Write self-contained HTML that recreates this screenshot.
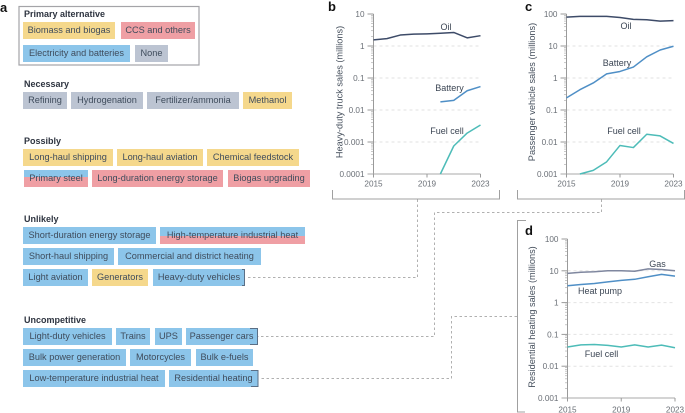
<!DOCTYPE html>
<html lang="en">
<head>
<meta charset="utf-8">
<title>Sales by technology</title>
<style>
html,body{margin:0;padding:0;background:#fff;}
#page{position:relative;width:685px;height:413px;overflow:hidden;background:#fff;font-family:"Liberation Sans",sans-serif;color:#3c4654;filter:blur(0.3px);}
.t{position:absolute;height:17px;line-height:17px;font-size:9.2px;text-align:center;white-space:nowrap;color:#3f4c5c;}
.y{background:#f5d88c;}
.p{background:#ef9fa4;}
.b{background:#8cc5ea;}
.g{background:#bcc4d2;}
.h{position:absolute;font-size:9px;font-weight:bold;color:#2e3440;white-space:nowrap;line-height:11px;}
.l{position:absolute;font-size:13px;font-weight:bold;color:#111;line-height:13px;}
svg{position:absolute;left:0;top:0;z-index:2;}
svg text{font-family:"Liberation Sans",sans-serif;}
</style>
</head>
<body>
<div id="page">
<svg id="chart" width="685" height="413" viewBox="0 0 685 413">
  <g fill="none" stroke="#a0a0a0" stroke-width="1">
    <rect x="19" y="6.5" width="180" height="58.5" stroke="#a4a4a8" stroke-width="1.2"/>
    <path d="M332.5 190V199H499.5V190"/>
    <path d="M517.5 190V199H684.5V190"/>
    <path d="M526 220.5H517.5V412H525"/>
    <path d="M417.5 199.5V277.5H246" stroke="#b0b0b0" stroke-dasharray="2.5 2.5"/>
    <path d="M601.5 199.5V212.5H434.5V336.5H258" stroke="#b0b0b0" stroke-dasharray="2.5 2.5"/>
    <path d="M517 316.5H451.5V378.5H259" stroke="#b0b0b0" stroke-dasharray="2.5 2.5"/>
  </g>
  <g fill="none" stroke="#5a6f86" stroke-width="1">
    <path d="M242 269.5H244.5V285.5H242"/>
    <path d="M250 328.5H257.5V344.5H250"/>
    <path d="M251 370.5H258V386.5H251"/>
  </g>
  <g id="plots"></g>
  <g font-size="9" fill="#3c4654">
    <text x="446" y="30" text-anchor="middle">Oil</text>
    <text x="449.5" y="91" text-anchor="middle">Battery</text>
    <text x="447" y="134" text-anchor="middle">Fuel cell</text>
    <text x="626" y="29" text-anchor="middle">Oil</text>
    <text x="617" y="66" text-anchor="middle">Battery</text>
    <text x="624" y="134" text-anchor="middle">Fuel cell</text>
    <text x="657.5" y="267" text-anchor="middle">Gas</text>
    <text x="600" y="294" text-anchor="middle">Heat pump</text>
    <text x="601.5" y="357" text-anchor="middle">Fuel cell</text>
  </g>
  <g font-size="9.2" fill="#454f5c" text-anchor="middle">
    <text transform="translate(342.5 92) rotate(-90)">Heavy-duty truck sales (millions)</text>
    <text transform="translate(535 92) rotate(-90)">Passenger vehicle sales (millions)</text>
    <text transform="translate(535 317) rotate(-90)">Residential heating sales (millions)</text>
  </g>
</svg>

<div class="l" style="left:0;top:1px">a</div>
<div class="l" style="left:328px;top:0">b</div>
<div class="l" style="left:525px;top:0">c</div>
<div class="l" style="left:525px;top:224px">d</div>

<div class="h" style="left:24px;top:9px">Primary alternative</div>
<div class="t y" style="left:23px;top:22px;width:92px">Biomass and biogas</div>
<div class="t p" style="left:121px;top:22px;width:74px">CCS and others</div>
<div class="t b" style="left:23px;top:45px;width:107px">Electricity and batteries</div>
<div class="t g" style="left:135px;top:45px;width:33px">None</div>

<div class="h" style="left:24px;top:79px">Necessary</div>
<div class="t g" style="left:23px;top:92px;width:44px">Refining</div>
<div class="t g" style="left:71px;top:92px;width:72px">Hydrogenation</div>
<div class="t g" style="left:147px;top:92px;width:92px">Fertilizer/ammonia</div>
<div class="t y" style="left:243px;top:92px;width:49px">Methanol</div>

<div class="h" style="left:24px;top:136px">Possibly</div>
<div class="t y" style="left:23px;top:149px;width:90px">Long-haul shipping</div>
<div class="t y" style="left:117px;top:149px;width:86px">Long-haul aviation</div>
<div class="t y" style="left:207px;top:149px;width:92px">Chemical feedstock</div>
<div class="t" style="left:24px;top:170px;width:64px;background:linear-gradient(#8cc5ea 0,#8cc5ea 7px,#ef9fa4 7px)">Primary steel</div>
<div class="t p" style="left:92px;top:170px;width:131px">Long-duration energy storage</div>
<div class="t p" style="left:228px;top:170px;width:82px">Biogas upgrading</div>

<div class="h" style="left:24px;top:214px">Unlikely</div>
<div class="t b" style="left:23px;top:227px;width:133px">Short-duration energy storage</div>
<div class="t" style="left:160px;top:227px;width:145px;background:linear-gradient(#8cc5ea 0,#8cc5ea 9px,#ef9fa4 9px)">High-temperature industrial heat</div>
<div class="t b" style="left:23px;top:248px;width:91px">Short-haul shipping</div>
<div class="t b" style="left:118px;top:248px;width:143px">Commercial and district heating</div>
<div class="t b" style="left:23px;top:269px;width:65px">Light aviation</div>
<div class="t y" style="left:92px;top:269px;width:56px">Generators</div>
<div class="t b" style="left:153px;top:269px;width:92px">Heavy-duty vehicles</div>

<div class="h" style="left:24px;top:315px">Uncompetitive</div>
<div class="t b" style="left:23px;top:328px;width:89px">Light-duty vehicles</div>
<div class="t b" style="left:116px;top:328px;width:34px">Trains</div>
<div class="t b" style="left:155px;top:328px;width:27px">UPS</div>
<div class="t b" style="left:186px;top:328px;width:71px">Passenger cars</div>
<div class="t b" style="left:23px;top:349px;width:103px">Bulk power generation</div>
<div class="t b" style="left:130px;top:349px;width:61px">Motorcycles</div>
<div class="t b" style="left:196px;top:349px;width:57px">Bulk e-fuels</div>
<div class="t b" style="left:23px;top:370px;width:142px">Low-temperature industrial heat</div>
<div class="t b" style="left:169px;top:370px;width:89px">Residential heating</div>
</div>

<script>
var years = [2015, 2016, 2017, 2018, 2019, 2020, 2021, 2022, 2023];
var xTickYears = [2015, 2019, 2023];

var truckTicks = [10, 1, 0.1, 0.01, 0.001, 0.0001];
var truckTickLabels = ['10', '1', '0.1', '0.01', '0.001', '0.0001'];
var truckOil = [1.55, 1.7, 2.2, 2.35, 2.4, 2.5, 2.65, 1.8, 2.1];
var truckBattery = [null, null, null, null, null, 0.018, 0.02, 0.04, 0.054];
var truckFuelCell = [null, null, null, null, null, 0.0001, 0.00075, 0.0019, 0.0034];

var carTicks = [100, 10, 1, 0.1, 0.01, 0.001];
var carTickLabels = ['100', '10', '1', '0.1', '0.01', '0.001'];
var carOil = [80, 84, 84, 84, 78, 68, 66, 60, 62];
var carBattery = [0.24, 0.43, 0.7, 1.35, 1.6, 2.2, 4.6, 7.5, 9.8];
var carFuelCell = [null, 0.001, 0.0013, 0.0024, 0.0078, 0.0067, 0.0175, 0.0155, 0.009];

var heatTicks = [100, 10, 1, 0.1, 0.01, 0.001];
var heatTickLabels = ['100', '10', '1', '0.1', '0.01', '0.001'];
var heatGas = [8.3, 9, 9.3, 10, 10, 9.7, 11.5, 11, 10];
var heatPump = [3.4, 3.7, 4, 4.5, 5, 5.4, 6.5, 7.7, 6.8];
var heatFuelCell = [0.04, 0.047, 0.048, 0.045, 0.04, 0.047, 0.04, 0.046, 0.038];

var SVGNS = 'http://www.w3.org/2000/svg';
var plotsRoot = document.getElementById('plots');

function makeSvg(tag, attrs, parent) {
  var el = document.createElementNS(SVGNS, tag);
  for (var k in attrs) { el.setAttribute(k, attrs[k]); }
  parent.appendChild(el);
  return el;
}

function drawPlot(id, ticks, tickLabels, series, box) {
  var group = makeSvg('g', {}, plotsRoot);
  
  

  var topLog = Math.log10(ticks[0]);
  var bottomLog = Math.log10(ticks[ticks.length - 1]);
  function xScale(year) {
    return box.left + (year - years[0]) / (years[years.length - 1] - years[0]) * (box.right - box.left);
  }
  function yScale(value) {
    return box.top + (topLog - Math.log10(value)) / (topLog - bottomLog) * (box.bottom - box.top);
  }

  ticks.forEach(function (tick, i) {
    var y = yScale(tick);
    if (i > 0 && i < ticks.length - 1) {
      var grid = makeSvg('line', { x1: box.left, x2: box.right, y1: y, y2: y, stroke: '#e2e2e2', 'stroke-width': 1, 'stroke-dasharray': '3 3' }, group);
      
      
    }
    var mark = makeSvg('line', { x1: box.left - 6, x2: box.left, y1: y, y2: y, stroke: '#9a9a9a', 'stroke-width': 1 }, group);
    
    
    var label = makeSvg('text', { x: box.left - 9, y: y + 3, 'text-anchor': 'end', 'font-size': 8.2, fill: '#6a6f76' }, group);
    
    
    label.textContent = tickLabels[i];
    if (i < ticks.length - 1) {
      for (var m = 2; m < 10; m++) {
        var minorY = yScale(tick / 10 * m);
        var minor = makeSvg('line', { x1: box.left - 2.5, x2: box.left, y1: minorY, y2: minorY, stroke: '#a5a5a5', 'stroke-width': 0.6 }, group);
        
        
      }
    }
  });

  var yAxis = makeSvg('line', { x1: box.left, x2: box.left, y1: box.top, y2: box.bottom, stroke: '#9a9a9a', 'stroke-width': 1 }, group);
  
  
  var xAxis = makeSvg('line', { x1: box.left - 6, x2: box.right, y1: box.bottom, y2: box.bottom, stroke: '#a8a8a8', 'stroke-width': 1 }, group);
  
  

  xTickYears.forEach(function (year) {
    var x = xScale(year);
    var mark = makeSvg('line', { x1: x, x2: x, y1: box.bottom, y2: box.bottom + 3.5, stroke: '#9a9a9a', 'stroke-width': 1 }, group);
    
    
    var label = makeSvg('text', { x: x, y: box.bottom + box.labelGap, 'text-anchor': 'middle', 'font-size': 8.2, fill: '#6a6f76' }, group);
    
    
    label.textContent = year;
  });

  series.forEach(function (s) {
    var d = '';
    s.values.forEach(function (value, i) {
      if (value === null) { return; }
      d += (d ? 'L' : 'M') + xScale(years[i]).toFixed(2) + ' ' + yScale(value).toFixed(2);
    });
    var path = makeSvg('path', { d: d, fill: 'none', stroke: s.color, 'stroke-width': 1.5, 'stroke-linejoin': 'round' }, group);
    
    
  });
}

drawPlot('b', truckTicks, truckTickLabels, [
  { name: 'oil', values: truckOil, color: '#3d4b68' },
  { name: 'battery', values: truckBattery, color: '#4f8fc6' },
  { name: 'fuel-cell', values: truckFuelCell, color: '#4dbcb8' }
], { left: 373.5, right: 480.5, top: 14, bottom: 174, labelGap: 12.5 });

drawPlot('c', carTicks, carTickLabels, [
  { name: 'oil', values: carOil, color: '#3d4b68' },
  { name: 'battery', values: carBattery, color: '#4f8fc6' },
  { name: 'fuel-cell', values: carFuelCell, color: '#4dbcb8' }
], { left: 566.5, right: 673.5, top: 14, bottom: 174, labelGap: 12.5 });

drawPlot('d', heatTicks, heatTickLabels, [
  { name: 'gas', values: heatGas, color: '#7f879f' },
  { name: 'heat-pump', values: heatPump, color: '#4f8fc6' },
  { name: 'fuel-cell', values: heatFuelCell, color: '#4dbcb8' }
], { left: 567.5, right: 675, top: 239, bottom: 398, labelGap: 14.5 });
</script>
</body>
</html>
